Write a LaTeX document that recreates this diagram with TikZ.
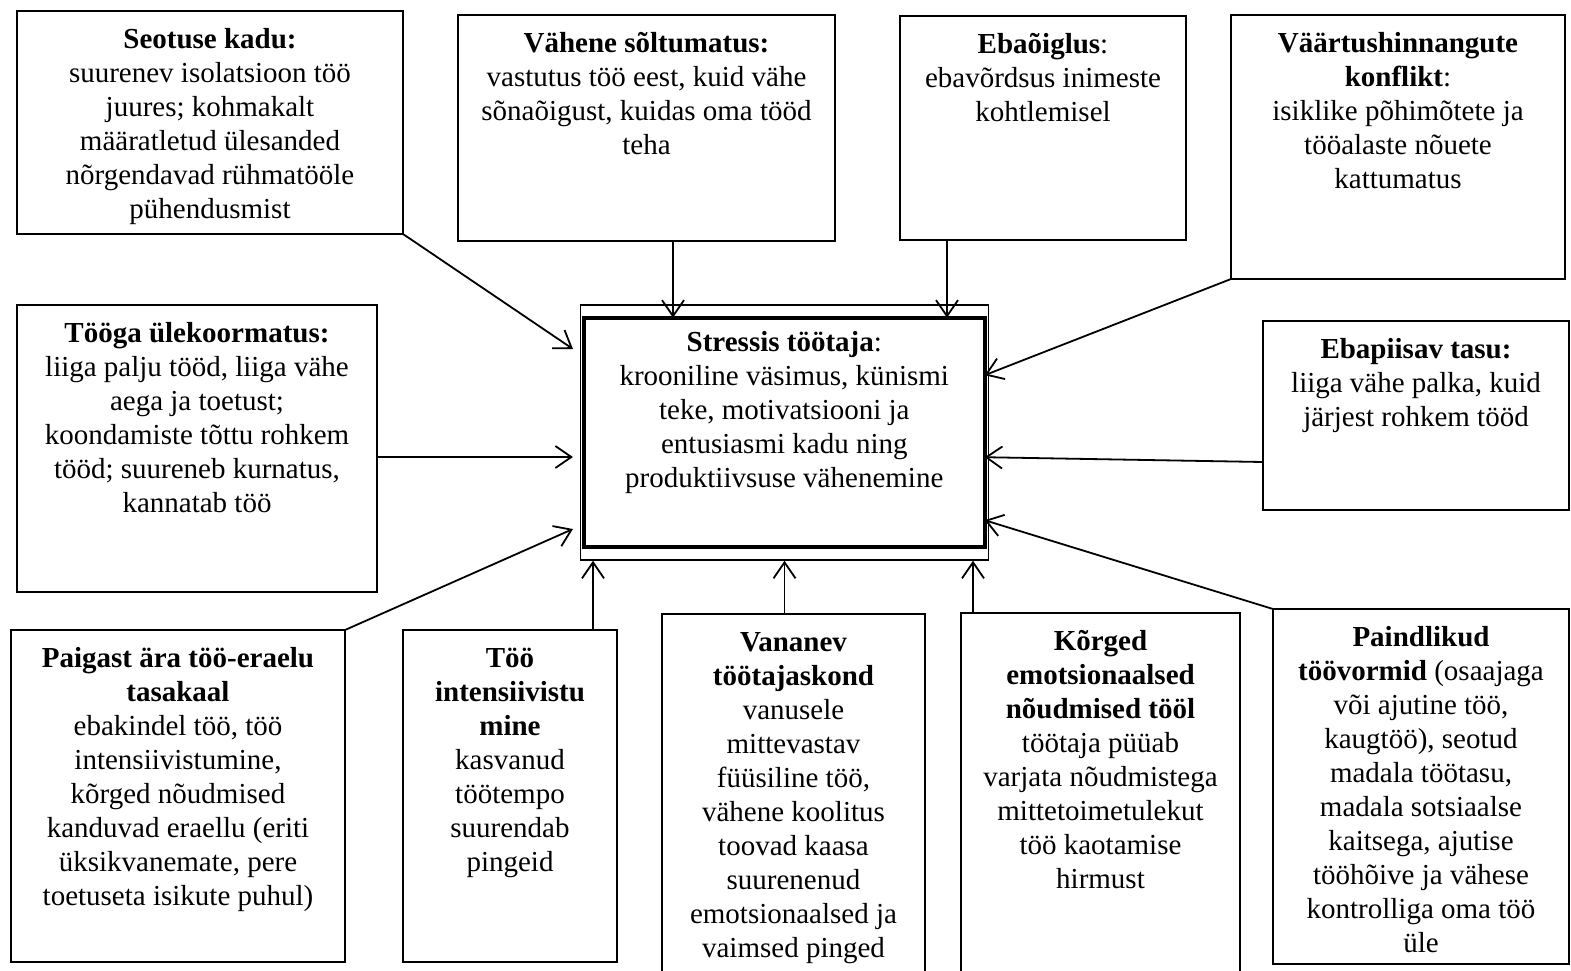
\documentclass[tikz,border=0pt]{standalone}
\usepackage{fontspec}
\setmainfont{Liberation Serif}
\usetikzlibrary{arrows.meta, calc}
\newcommand{\boxtext}[4][14pt]{\begin{minipage}[c][#3][t]{#2}\centering\vspace*{#1}\strut #4\end{minipage}}

\begin{document}
\begin{tikzpicture}[x=1pt, y=-1pt,
  cause/.style={draw, line width=2pt, inner sep=0pt, outer sep=0pt, anchor=north west, font=\fontsize{29}{34}\selectfont},
  arr/.style={line width=1.8pt, -{Straight Barb[length=16pt, width=22pt]}}]
  \useasboundingbox (0,0) rectangle (1571,970);

  % centre: stressed worker
  \node[draw, line width=1.5pt, minimum width=407.6pt, minimum height=255pt] (frame) at (784.5,432.5) {};
  \node[cause, anchor=center, line width=4pt, minimum width=400.7pt] (stress) at (784.3,432.2)
    {\boxtext[9.6pt]{390pt}{229pt}{\textbf{Stressis töötaja}:\\ krooniline väsimus, künismi\\ teke, motivatsiooni ja\\ entusiasmi kadu ning\\ produktiivsuse vähenemine}};

  % top row
  \node[cause] (seot) at (17,11) {\boxtext{386pt}{223pt}{\textbf{Seotuse kadu:}\\ suurenev isolatsioon töö\\ juures; kohmakalt\\ määratletud ülesanded\\ nõrgendavad rühmatööle\\ pühendusmist}};
  \node[cause] (vah) at (458,15) {\boxtext{377pt}{226pt}{\textbf{Vähene sõltumatus:}\\ vastutus töö eest, kuid vähe\\ sõnaõigust, kuidas oma tööd\\ teha}};
  \node[cause] (eba) at (900,16) {\boxtext{286pt}{224pt}{\textbf{Ebaõiglus}:\\ ebavõrdsus inimeste\\ kohtlemisel}};
  \node[cause] (vaart) at (1231,15) {\boxtext{334pt}{264pt}{\textbf{Väärtushinnangute}\\ \textbf{konflikt}:\\ isiklike põhimõtete ja\\ tööalaste nõuete\\ kattumatus}};

  % middle row
  \node[cause] (yle) at (17,305) {\boxtext{360pt}{287pt}{\textbf{Tööga ülekoormatus:}\\ liiga palju tööd, liiga vähe\\ aega ja toetust;\\ koondamiste tõttu rohkem\\ tööd; suureneb kurnatus,\\ kannatab töö}};
  \node[cause] (tasu) at (1263,321) {\boxtext{306pt}{189pt}{\textbf{Ebapiisav tasu:}\\ liiga vähe palka, kuid\\ järjest rohkem tööd}};

  % bottom row
  \node[cause] (tasak) at (11,630) {\boxtext{334pt}{332pt}{\textbf{Paigast ära töö-eraelu}\\ \textbf{tasakaal}\\ ebakindel töö, töö\\ intensiivistumine,\\ kõrged nõudmised\\ kanduvad eraellu (eriti\\ üksikvanemate, pere\\ toetuseta isikute puhul)}};
  \node[cause] (intens) at (403,630) {\boxtext{214pt}{332pt}{\textbf{Töö}\\ \textbf{intensiivistu}\\ \textbf{mine}\\ kasvanud\\ töötempo\\ suurendab\\ pingeid}};
  \node[cause] (vanan) at (662,614) {\boxtext{263pt}{361pt}{\textbf{Vananev}\\ \textbf{töötajaskond}\\ vanusele\\ mittevastav\\ füüsiline töö,\\ vähene koolitus\\ toovad kaasa\\ suurenenud\\ emotsionaalsed ja\\ vaimsed pinged}};
  \node[cause] (emot) at (961,613) {\boxtext{279pt}{362pt}{\textbf{Kõrged}\\ \textbf{emotsionaalsed}\\ \textbf{nõudmised tööl}\\ töötaja püüab\\ varjata nõudmistega\\ mittetoimetulekut\\ töö kaotamise\\ hirmust}};
  \node[cause] (paind) at (1273,609) {\boxtext{296pt}{355pt}{\textbf{Paindlikud}\\ \textbf{töövormid} (osaajaga\\ või ajutine töö,\\ kaugtöö), seotud\\ madala töötasu,\\ madala sotsiaalse\\ kaitsega, ajutise\\ tööhõive ja vähese\\ kontrolliga oma töö\\ üle}};

  % arrows into the centre
  \draw[arr] (seot.south east) -- ($(frame.west)+(-7,-83.5)$);
  \draw[arr] ($(vah.south)+(26.5,0)$) -- ($(stress.north)+(-111.3,0)$);
  \draw[arr] ($(eba.south)+(-96,0)$) -- ($(stress.north)+(162.7,0)$);
  \draw[arr] (vaart.south west) -- ($(stress.east)+(0,-57)$);
  \draw[arr] ($(yle.east)+(0,8.5)$) -- ($(frame.west)+(-7,24.5)$);
  \draw[arr] ($(tasu.west)+(0,46.5)$) -- ($(stress.east)+(0,25)$);
  \draw[arr] (tasak.north east) -- ($(frame.west)+(-7,96.5)$);
  \draw[arr] ($(intens.north)+(83,0)$) -- ($(frame.south)+(-191.5,0)$);
  \draw[arr] (vanan.north -| frame.south) -- (frame.south);
  \draw[arr] ($(emot.north)+(-127.5,0)$) -- ($(frame.south)+(188.5,0)$);
  \draw[arr] (paind.north west) -- ($(stress.east)+(0,88)$);
\end{tikzpicture}
\end{document}
